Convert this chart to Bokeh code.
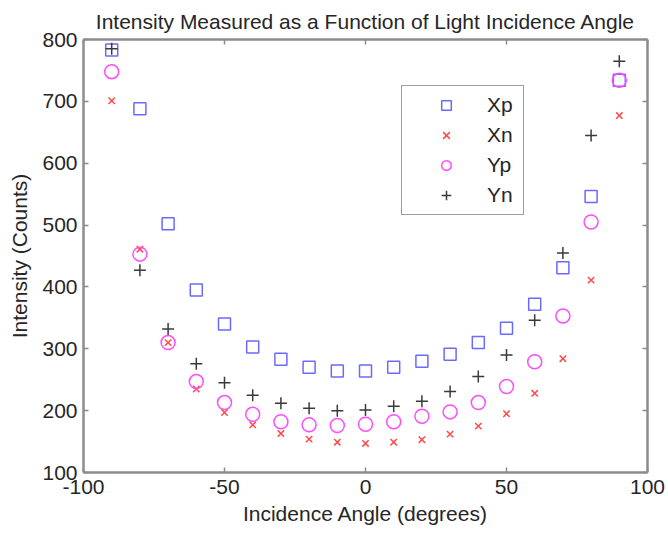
from bokeh.plotting import figure
from bokeh.models import LinearAxis, FixedTicker, Range1d, Legend, LegendItem
from bokeh.embed import file_html
from bokeh.resources import INLINE

angles = [-90, -80, -70, -60, -50, -40, -30, -20, -10, 0, 10, 20, 30, 40, 50, 60, 70, 80, 90]
xp = [783, 688, 502, 395, 340, 303, 283, 270, 264, 264, 270, 280, 291, 310, 333, 372, 431, 546, 734]
xn = [701, 461, 310, 235, 197, 177, 163, 154, 149, 147, 149, 153, 162, 175, 195, 228, 284, 411, 677]
yp = [748, 453, 310, 247, 213, 194, 182, 177, 176, 178, 182, 191, 198, 213, 239, 279, 353, 505, 734]
yn = [785, 427, 332, 276, 245, 225, 212, 204, 200, 201, 207, 215, 231, 255, 290, 346, 455, 645, 765]

x_ticks = [-100, -50, 0, 50, 100]
x_tick_labels = ["-100", "-50", "0", "50", "100"]
y_ticks = [100, 200, 300, 400, 500, 600, 700, 800]

FONT = "Liberation Sans"
TXT = "#262626"
AX = "#8c8c8c"
FS = "21px"

p = figure(width=668, height=535, output_backend="svg", toolbar_location=None,
           x_range=Range1d(-100, 100), y_range=Range1d(100, 800),
           min_border_left=83, min_border_right=21, min_border_top=39, min_border_bottom=63,
           x_axis_location=None, y_axis_location=None)
p.title.text = "Intensity Measured as a Function of Light Incidence Angle"
p.title.align = "center"
p.title.text_font = FONT
p.title.text_font_size = FS
p.title.text_font_style = "normal"
p.title.text_color = TXT
p.title.standoff = 13
p.xgrid.visible = False
p.ygrid.visible = False
p.outline_line_color = None


def style(ax, ticks, show_labels):
    ax.ticker = FixedTicker(ticks=ticks)
    ax.axis_line_color = AX
    ax.axis_line_width = 2.5
    ax.major_tick_line_color = AX
    ax.major_tick_line_width = 1.5
    ax.major_tick_in = 5
    ax.major_tick_out = 0
    ax.minor_tick_line_color = None
    ax.major_label_text_font = FONT
    ax.major_label_text_color = TXT
    ax.major_label_text_font_size = FS
    ax.axis_label_text_font = FONT
    ax.axis_label_text_font_style = "normal"
    ax.axis_label_text_color = TXT
    ax.axis_label_text_font_size = FS
    if not show_labels:
        ax.major_label_overrides = {t: "" for t in ticks}
        ax.major_label_text_font_size = "1px"
        ax.major_label_standoff = 0


xb = LinearAxis(axis_label="Incidence Angle (degrees)")
style(xb, x_ticks, True)
xb.major_label_overrides = dict(zip(x_ticks, x_tick_labels))
xb.major_label_standoff = 7
xb.axis_label_standoff = 5
yl = LinearAxis(axis_label="Intensity (Counts)")
style(yl, y_ticks, True)
yl.major_label_standoff = 6
yl.axis_label_standoff = 8
xa = LinearAxis()
style(xa, x_ticks, False)
yr = LinearAxis()
style(yr, y_ticks, False)
p.add_layout(xb, "below")
p.add_layout(yl, "left")
p.add_layout(xa, "above")
p.add_layout(yr, "right")

r_xp = p.scatter(angles, xp, marker="square", size=12, fill_color=None, line_color="#6a6aff", line_width=1.5)
r_xn = p.scatter(angles, xn, marker="x", size=9, line_color="#ff4a4a", line_width=1.5)
r_yp = p.scatter(angles, yp, marker="circle", size=14, fill_color=None, line_color="#ff4cff", line_width=1.5)
r_yn = p.scatter(angles, yn, marker="cross", size=12, line_color="#3a3a3a", line_width=1.5)

legend = Legend(items=[
    LegendItem(label="Xp", renderers=[r_xp]),
    LegendItem(label="Xn", renderers=[r_xn]),
    LegendItem(label="Yp", renderers=[r_yp]),
    LegendItem(label="Yn", renderers=[r_yn]),
], location=(318, 257))
legend.padding = 4
legend.spacing = 0
legend.margin = 0
legend.glyph_width = 80
legend.glyph_height = 24
legend.label_height = 30
legend.label_width = 32
legend.label_standoff = 1
legend.label_text_font = FONT
legend.label_text_font_size = FS
legend.label_text_color = TXT
legend.border_line_color = "#404040"
legend.border_line_width = 1.5
legend.background_fill_color = "white"
legend.background_fill_alpha = 1
p.add_layout(legend, "center")

open("out.html", "w").write(file_html(p, INLINE))
